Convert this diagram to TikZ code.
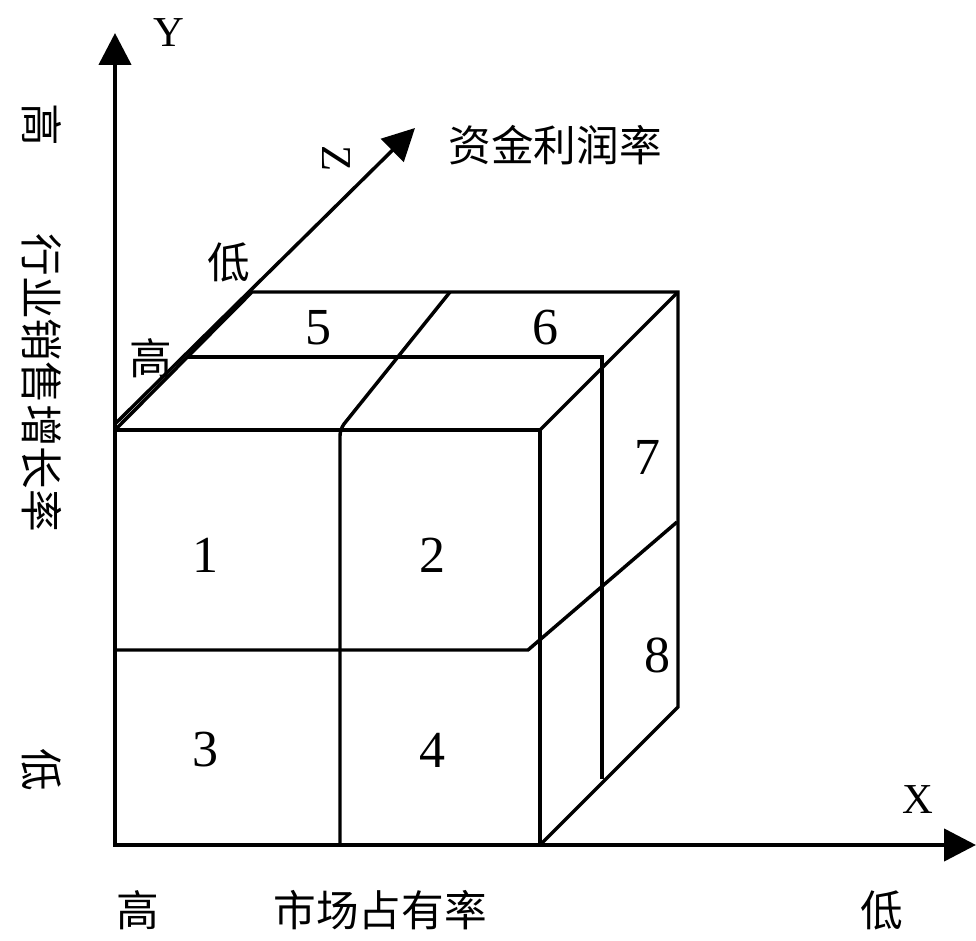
\documentclass[tikz,border=0pt]{standalone}
\usepackage{fontspec}
\setmainfont{Liberation Serif}
\newfontfamily\cjk{Noto Sans CJK SC}
\usetikzlibrary{arrows.meta}
\begin{document}
\begin{tikzpicture}[x=0.75pt,y=-0.75pt,
  edge/.style={line width=2.6pt,line join=miter},
  axis/.style={line width=3.3pt,-{Triangle[length=24pt,width=24pt]}},
  num/.style={font=\fontsize{39}{39}\selectfont,inner sep=0pt},
  lat/.style={font=\fontsize{32}{32}\selectfont,inner sep=0pt},
  zh/.style={font=\cjk\fontsize{32}{32}\selectfont,inner sep=0pt}]
\useasboundingbox (0,0) rectangle (976,941);
% coordinates
\coordinate (O) at (115,845);
\coordinate (Ytip) at (115,33);
\coordinate (Xtip) at (976,845);
\coordinate (Zs) at (115,424);
\coordinate (Ztip) at (415,128);
\coordinate (A) at (115,430);
\coordinate (B) at (540,430);
\coordinate (C) at (540,845);
\coordinate (Mt) at (340,429);
\coordinate (Mb) at (340,845);
\coordinate (Hl) at (115,650);
\coordinate (Hr) at (528,650);
\coordinate (Hb) at (677,522);
\coordinate (TM) at (450,292);
\coordinate (BTL) at (252,292);
\coordinate (BTR) at (678,292);
\coordinate (BBR) at (678,707);
\coordinate (MTL) at (188,357);
\coordinate (MTR) at (602,357);
\coordinate (MBR) at (602,779);
% axes
\draw[axis] (O) -- (Ytip);
\draw[axis] (O) -- (Xtip);
\draw[line width=2.6pt,-{Triangle[length=24pt,width=24pt]}] (Zs) -- (Ztip);
% cube
\draw[edge] (A) rectangle (C);
\draw[edge,rounded corners=5pt] (Mb) -- (Mt) -- (TM);
\draw[edge] (Hl) -- (Hr) -- (Hb);
\draw[edge] (A) -- (BTL) -- (BTR) -- (BBR) -- (C);
\draw[edge] (B) -- (BTR);
\draw[edge] (MTL) -- (MTR) -- (MBR);
% numbers
\node[num] (n1) at (205,555) {1};
\node[num] (n2) at (432,555) {2};
\node[num] (n3) at (205,750) {3};
\node[num] (n4) at (432,750) {4};
\node[num] (n5) at (318,328) {5};
\node[num] (n6) at (545,328) {6};
\node[num] (n7) at (647,457) {7};
\node[num] (n8) at (657,655) {8};
% axis letters
\node[lat] (ly) at (169,33) {Y};
\node[lat] (lx) at (918,800) {X};
\node[lat,rotate=-90] (lz) at (336,159) {Z};
% chinese labels
\node[zh] (zlab) at (555,145) {资金利润率};
\node[zh] (zlow) at (229,262) {低};
\node[zh] (zhigh) at (151,358) {高};
\node[zh,rotate=-90] (yhigh) at (42,125) {高};
\node[zh,rotate=-90] (ylab) at (42,383) {行业销售增长率};
\node[zh,rotate=-90] (ylow) at (42,770) {低};
\node[zh] (xhigh) at (138,910) {高};
\node[zh] (xlab) at (380,910) {市场占有率};
\node[zh] (xlow) at (882,910) {低};
\end{tikzpicture}
\end{document}
